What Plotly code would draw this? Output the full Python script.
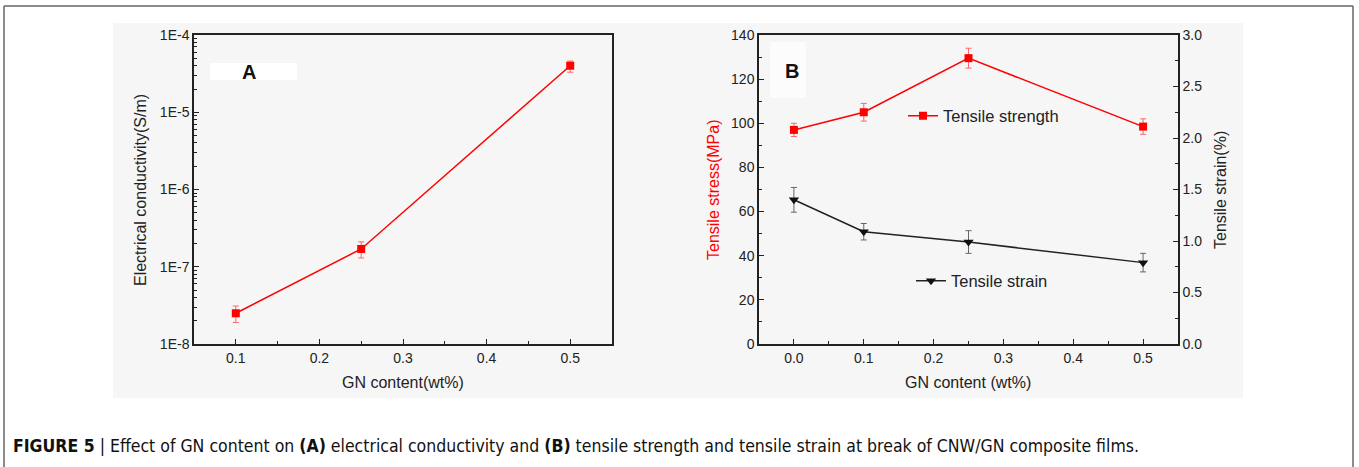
import plotly.graph_objects as go

W, H = 1359, 467

# Panel A data
a_x = [0.1, 0.25, 0.5]
a_cond = [2.5e-8, 1.7e-7, 4.0e-5]
a_err_plus = [0.6e-8, 0.4e-7, 0.6e-5]
a_err_minus = [0.6e-8, 0.4e-7, 0.7e-5]

# Panel B data
b_x = [0.0, 0.1, 0.25, 0.5]
b_strength = [97, 105, 129.5, 98.5]
b_strength_err = [3, 4, 4.5, 3.5]
b_strain = [1.40, 1.09, 0.99, 0.79]
b_strain_err = [0.12, 0.08, 0.11, 0.09]

a_ytickvals = [1e-8, 1e-7, 1e-6, 1e-5, 1e-4]
a_yticktext = ["1E-8", "1E-7", "1E-6", "1E-5", "1E-4"]

RED = "#ff0000"
FONT = "Arial"


def px(x):
    return x / W


def py(y):
    return 1 - y / H


fig = go.Figure()

fig.add_trace(go.Scatter(
    x=a_x, y=a_cond, mode="lines+markers", xaxis="x", yaxis="y",
    line=dict(color=RED, width=1.5),
    marker=dict(symbol="square", size=8, color=RED),
    error_y=dict(type="data", symmetric=False, array=a_err_plus, arrayminus=a_err_minus,
                 color="#ff6666", thickness=1, width=3),
    showlegend=False,
))

fig.add_trace(go.Scatter(
    x=b_x, y=b_strength, mode="lines+markers", xaxis="x2", yaxis="y2",
    name="Tensile strength",
    line=dict(color=RED, width=1.5),
    marker=dict(symbol="square", size=8, color=RED),
    error_y=dict(type="data", array=b_strength_err, color="#ff6666", thickness=1, width=3),
    legend="legend",
))

fig.add_trace(go.Scatter(
    x=b_x, y=b_strain, mode="lines+markers", xaxis="x2", yaxis="y3",
    name="Tensile strain",
    line=dict(color="#222222", width=1.5),
    marker=dict(symbol="triangle-down", size=9, color="#111111"),
    error_y=dict(type="data", array=b_strain_err, color="#666666", thickness=1, width=3),
    legend="legend2",
))

tickfont = dict(family=FONT, size=14, color="#222222")
axcommon = dict(showline=True, linecolor="#222222", linewidth=1.5, mirror=True,
                ticks="inside", ticklen=5, tickwidth=1, tickcolor="#222222",
                showgrid=False, zeroline=False, tickfont=tickfont, automargin=False)
noMirror = {k: v for k, v in axcommon.items() if k != "mirror"}

a_minor = [m * 10.0 ** e for e in range(-8, -4) for m in range(2, 10)]

fig.update_layout(
    width=W, height=H,
    margin=dict(l=0, r=0, t=0, b=0, autoexpand=False),
    paper_bgcolor="white",
    plot_bgcolor="rgba(0,0,0,0)",
    font=dict(family=FONT, color="#222222"),
    xaxis=dict(domain=[px(194), px(612)], anchor="y", range=[0.05, 0.55],
               tickvals=[0.1, 0.2, 0.3, 0.4, 0.5], ticktext=["0.1", "0.2", "0.3", "0.4", "0.5"],
               minor=dict(ticks="inside", ticklen=3, dtick=0.05, tick0=0.05, tickcolor="#222222"),
               **axcommon),
    yaxis=dict(domain=[py(344), py(35)], anchor="x", type="log", range=[-8, -4],
               tickvals=a_ytickvals, ticktext=a_yticktext,
               minor=dict(ticks="inside", ticklen=3, tickvals=a_minor, tickcolor="#222222"),
               **axcommon),
    xaxis2=dict(domain=[px(759), px(1178)], anchor="y2", range=[-0.05, 0.55],
                tickvals=[0.0, 0.1, 0.2, 0.3, 0.4, 0.5],
                ticktext=["0.0", "0.1", "0.2", "0.3", "0.4", "0.5"],
                minor=dict(ticks="inside", ticklen=3, dtick=0.05, tick0=0.05, tickcolor="#222222"),
                **axcommon),
    yaxis2=dict(domain=[py(344), py(35)], anchor="x2", range=[0, 140], dtick=20,
                minor=dict(ticks="inside", ticklen=3, dtick=10, tickcolor="#222222"),
                **noMirror),
    yaxis3=dict(overlaying="y2", anchor="x2", side="right", range=[0, 3.0], dtick=0.5,
                tickformat=".1f",
                minor=dict(ticks="inside", ticklen=3, dtick=0.25, tickcolor="#222222"),
                **noMirror),
    legend=dict(x=px(903), y=py(116), xanchor="left", yanchor="middle",
                bgcolor="rgba(0,0,0,0)", font=dict(family=FONT, size=16.5, color="#222222"),
                itemwidth=30, tracegroupgap=0),
    legend2=dict(x=px(911), y=py(281), xanchor="left", yanchor="middle",
                 bgcolor="rgba(0,0,0,0)", font=dict(family=FONT, size=16.5, color="#222222"),
                 itemwidth=30),
)

frame = dict(color="#666666", width=1.5)
shapes = [
    dict(type="rect", xref="paper", yref="paper", x0=px(113), x1=px(1243), y0=py(398), y1=py(23),
         fillcolor="#f6f6f6", line=dict(width=0), layer="below"),
    dict(type="rect", xref="paper", yref="paper", x0=px(210), x1=px(297), y0=py(80), y1=py(63),
         fillcolor="white", line=dict(width=0), layer="below"),
    dict(type="rect", xref="paper", yref="paper", x0=px(770), x1=px(806), y0=py(98), y1=py(42),
         fillcolor="#fcfcfc", line=dict(width=0), layer="below"),
    # outer frame (open at the bottom)
    dict(type="line", xref="paper", yref="paper", x0=px(4), x1=px(1353), y0=py(6), y1=py(6), line=frame),
    dict(type="line", xref="paper", yref="paper", x0=px(4), x1=px(4), y0=py(6), y1=0, line=frame),
    dict(type="line", xref="paper", yref="paper", x0=px(1353), x1=px(1353), y0=py(6), y1=0, line=frame),
]
fig.update_layout(shapes=shapes)


def ann(text, x, y, size, color="#222222", angle=0, xanchor="center", family=FONT):
    return dict(text=text, x=px(x), y=py(y), xref="paper", yref="paper", showarrow=False,
                xanchor=xanchor, yanchor="middle", textangle=angle,
                font=dict(family=family, size=size, color=color))


annotations = [
    ann("<b>A</b>", 249, 72, 20, "#111111"),
    ann("<b>B</b>", 792, 71, 20, "#111111"),
    ann("Electrical conductivity(S/m)", 141, 190, 16, angle=-90),
    ann("GN content(wt%)", 403, 382, 16),
    ann("Tensile stress(MPa)", 714, 190, 16, color=RED, angle=-90),
    ann("Tensile strain(%)", 1221, 190, 16, angle=-90),
    ann("GN content (wt%)", 968, 382, 16),
    ann("<b>FIGURE 5</b> | Effect of GN content on <b>(A)</b> electrical conductivity and "
        "<b>(B)</b> tensile strength and tensile strain at break of CNW/GN composite films.",
        11, 446, 17.5, "#111111", xanchor="left", family="DejaVu Sans Condensed"),
]
fig.update_layout(annotations=annotations)

fig.write_html("out.html", config={"displayModeBar": False},
               post_script="document.body.style.margin='0';")
